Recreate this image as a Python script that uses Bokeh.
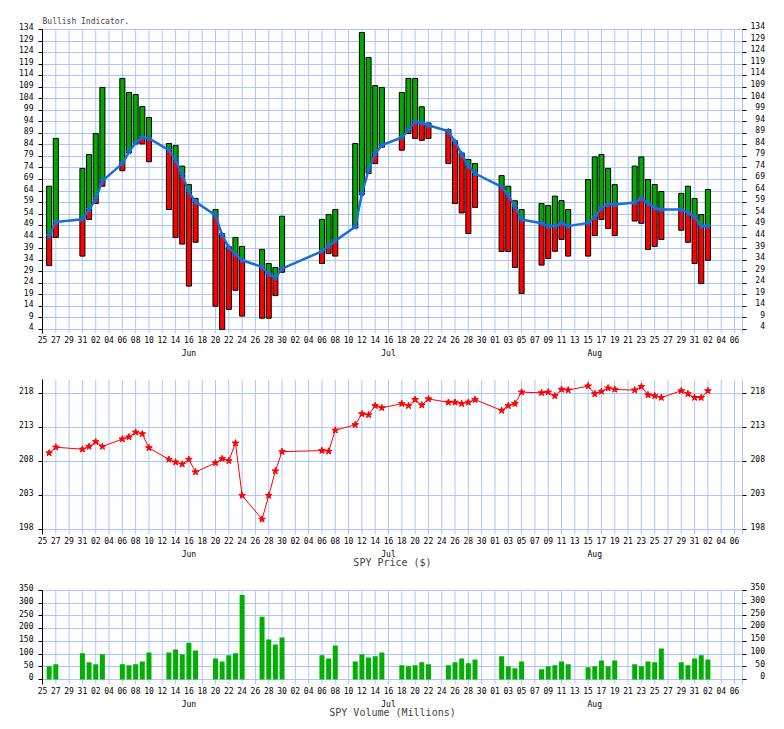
import pandas as pd
from bokeh.plotting import figure
from bokeh.models import Range1d, FixedTicker, LinearAxis, Grid, Title
from bokeh.layouts import column
from bokeh.embed import file_html
from bokeh.resources import INLINE

# ---------------- data ----------------
dates = ["2016-05-26", "2016-05-27", "2016-05-31", "2016-06-01", "2016-06-02", "2016-06-03",
         "2016-06-06", "2016-06-07", "2016-06-08", "2016-06-09", "2016-06-10",
         "2016-06-13", "2016-06-14", "2016-06-15", "2016-06-16", "2016-06-17",
         "2016-06-20", "2016-06-21", "2016-06-22", "2016-06-23", "2016-06-24",
         "2016-06-27", "2016-06-28", "2016-06-29", "2016-06-30",
         "2016-07-06", "2016-07-07", "2016-07-08",
         "2016-07-11", "2016-07-12", "2016-07-13", "2016-07-14", "2016-07-15",
         "2016-07-18", "2016-07-19", "2016-07-20", "2016-07-21", "2016-07-22",
         "2016-07-25", "2016-07-26", "2016-07-27", "2016-07-28", "2016-07-29",
         "2016-08-02", "2016-08-03", "2016-08-04", "2016-08-05",
         "2016-08-08", "2016-08-09", "2016-08-10", "2016-08-11", "2016-08-12",
         "2016-08-15", "2016-08-16", "2016-08-17", "2016-08-18", "2016-08-19",
         "2016-08-22", "2016-08-23", "2016-08-24", "2016-08-25", "2016-08-26",
         "2016-08-29", "2016-08-30", "2016-08-31", "2016-09-01", "2016-09-02"]

bull_high = [66.1, 86.8, 73.8, 79.8, 88.9, 108.9,
             112.8, 106.7, 105.8, 100.6, 95.9,
             84.6, 83.7, 74.8, 66.8, 60.8,
             56.0, 45.6, 40.0, 43.9, 40.0,
             38.7, 32.6, 30.9, 53.1,
             51.7, 53.8, 56.0,
             84.6, 132.7, 121.9, 109.7, 108.9,
             106.7, 112.8, 112.8, 100.5, 93.5,
             90.7, 85.8, 80.5, 77.7, 75.9,
             70.7, 66.1, 59.8, 56.0,
             58.6, 57.7, 61.8, 59.9, 56.0,
             69.0, 78.8, 79.8, 73.8, 66.8,
             74.8, 78.8, 69.0, 66.8, 63.8,
             63.0, 66.1, 60.8, 53.8, 64.7]

bull_low = [31.7, 43.9, 35.8, 51.7, 58.6, 66.1,
            72.8, 80.6, 84.6, 84.4, 76.7,
            56.0, 43.9, 41.0, 22.8, 41.8,
            14.1, 4.0, 12.7, 21.0, 9.8,
            8.9, 8.9, 18.7, 28.8,
            32.6, 36.9, 35.8,
            48.0, 62.5, 71.6, 75.9, 83.0,
            81.7, 88.9, 86.8, 86.0, 86.8,
            75.9, 58.6, 54.5, 45.6, 56.9,
            37.8, 37.8, 30.9, 19.6,
            31.9, 34.8, 37.9, 43.0, 35.8,
            35.8, 44.7, 51.7, 47.8, 44.7,
            51.0, 50.0, 38.7, 40.0, 43.0,
            47.0, 41.8, 32.6, 23.9, 34.0]

bull_line = [44.6, 50.6, 51.8, 56.0, 60.5, 68.4,
             75.9, 81.0, 84.9, 87.2, 86.8,
             81.7, 77.4, 70.9, 63.6, 59.3,
             53.5, 44.9, 39.5, 36.6, 34.0,
             31.1, 28.0, 26.5, 30.4,
             37.9, 40.1, 42.4,
             48.5, 62.9, 73.0, 80.3, 83.9,
             87.2, 90.4, 94.0, 93.6, 92.5,
             89.9, 85.3, 80.0, 74.9, 71.6,
             65.8, 62.2, 57.2, 51.7,
             50.0, 48.8, 48.8, 50.0, 48.8,
             50.2, 52.8, 56.7, 58.2, 58.2,
             59.0, 60.8, 58.6, 56.7, 56.0,
             56.0, 54.6, 52.8, 48.8, 48.8]

spy_price = [209.25, 210.1, 209.8, 210.2, 210.9, 210.2,
             211.3, 211.6, 212.3, 212.05, 210.0,
             208.3, 207.9, 207.6, 208.3, 206.45,
             207.8, 208.4, 208.1, 210.7, 203.0,
             199.5, 203.0, 206.6, 209.45,
             209.6, 209.5, 212.6,
             213.4, 215.0, 214.85, 216.2, 215.9,
             216.5, 216.2, 217.1, 216.3, 217.2,
             216.7, 216.7, 216.5, 216.7, 217.1,
             215.5, 216.2, 216.5, 218.2,
             218.1, 218.2, 217.65, 218.6, 218.5,
             219.1, 217.95, 218.3, 218.8, 218.6,
             218.5, 219.0, 217.8, 217.65, 217.4,
             218.4, 217.95, 217.4, 217.4, 218.4]

spy_volume = [52, 60, 103, 68, 60, 99,
              60, 56, 60, 71, 106,
              106, 118, 99, 145, 114,
              83, 71, 95, 103, 332,
              247, 157, 138, 165,
              95, 83, 134,
              71, 99, 87, 91, 106,
              56, 52, 56, 68, 60,
              56, 68, 83, 64, 79,
              91, 52, 44, 71,
              40, 52, 56, 71, 60,
              48, 52, 75, 52, 75,
              60, 52, 71, 68, 122,
              68, 56, 83, 95, 79]

bull_ticks = list(range(4, 135, 5))
price_ticks = [198, 203, 208, 213, 218]
volume_ticks = [0, 50, 100, 150, 200, 250, 300, 350]
month_names = ["Jun", "Jul", "Aug"]
month_label_dates = ["2016-06-16", "2016-07-16", "2016-08-16"]
axis_start = "2016-05-25"
last_tick_date = "2016-09-06"

# ---------------- helpers ----------------
FONT = "DejaVu Sans Mono"
GRID = "#abc6ff"
GREEN = "#00a800"
RED = "#ff0000"
BLUE = "#1a6ed8"

base = pd.Timestamp(axis_start)
xd = [(pd.Timestamp(d) - base).days for d in dates]
tick_dates = pd.date_range(axis_start, last_tick_date, freq="2D")
day_ticks = [int((d - base).days) for d in tick_dates]
day_labels = {t: d.strftime("%d") for t, d in zip(day_ticks, tick_dates)}
month_ticks = [int((pd.Timestamp(d) - base).days) for d in month_label_dates]
month_labels = {t: m for t, m in zip(month_ticks, month_names)}
XMAX = day_ticks[-1] + 1.2
LABEL_LIFT_PX = 2.7   # value labels sit a little above their grid lines


def pad(v, n=3):
    s = str(v)
    return "\u00a0" * (n - len(s)) + s


def make_fig(y0, y1, yticks, fh, top, bottom, xlabel=None, label_standoff=-4, ext=0):
    # ext: a few extra pixels of frame above y1 so the top value label has room
    ppu = fh / (y1 - y0)
    y1e = y1 + ext / ppu
    p = figure(frame_width=700, frame_height=fh + ext,
               x_range=Range1d(0, XMAX), y_range=Range1d(y0, y1e),
               x_axis_type=None, y_axis_type=None,
               output_backend="svg", toolbar_location=None, tools="",
               min_border_left=42, min_border_right=34,
               min_border_top=top - ext, min_border_bottom=bottom,
               outline_line_color=None, background_fill_color="white",
               border_fill_color="white")
    shift = LABEL_LIFT_PX / ppu
    p.extra_y_ranges = {"lab": Range1d(y0 - shift, y1e - shift)}

    yt = FixedTicker(ticks=yticks, minor_ticks=[])
    xt = FixedTicker(ticks=day_ticks, minor_ticks=[])
    # vertical grid lines span only the plotted value range
    vg = p.segment(x0=day_ticks, x1=day_ticks, y0=[y0] * len(day_ticks), y1=[y1] * len(day_ticks),
                   line_color=GRID, line_width=1)
    vg.level = "underlay"
    p.add_layout(Grid(dimension=1, ticker=yt, grid_line_color=GRID, grid_line_width=1))

    common = dict(major_label_text_font=FONT, major_label_text_font_size="8px",
                  major_label_text_color="black", minor_tick_line_color=None)
    blank = {t: "" for t in yticks}
    # tick-only axes next to the frame
    left_t = LinearAxis(ticker=yt, bounds=(y0, y1), axis_line_color="black",
                        major_tick_out=4, major_tick_in=0,
                        major_tick_line_color="black", major_label_standoff=0,
                        major_label_overrides=blank, **common)
    right_t = LinearAxis(ticker=yt, bounds=(y0, y1), axis_line_color=GRID,
                         major_tick_out=4, major_tick_in=0,
                         major_tick_line_color="black", major_label_standoff=0,
                         major_label_overrides=blank, **common)
    # label-only axes, lifted slightly
    left_l = LinearAxis(ticker=yt, y_range_name="lab", axis_line_color=None,
                        major_tick_line_color=None, major_tick_out=0, major_tick_in=0,
                        major_label_standoff=5, **common)
    right_l = LinearAxis(ticker=yt, y_range_name="lab", axis_line_color=None,
                         major_tick_line_color=None, major_tick_out=0, major_tick_in=0,
                         major_label_standoff=4,
                         major_label_overrides={t: pad(t) for t in yticks}, **common)
    days = LinearAxis(ticker=xt, axis_line_color=None, major_tick_line_color=None,
                      major_tick_out=0, major_label_standoff=2,
                      major_label_overrides=day_labels, **common)
    mon = LinearAxis(ticker=FixedTicker(ticks=month_ticks, minor_ticks=[]),
                     axis_line_color=None, major_tick_line_color=None, major_tick_out=0,
                     major_label_standoff=3, major_label_overrides=month_labels, **common)
    if xlabel:
        mon.axis_label = xlabel
        mon.axis_label_text_font = FONT
        mon.axis_label_text_font_size = "10px"
        mon.axis_label_text_font_style = "normal"
        mon.axis_label_standoff = label_standoff
    p.add_layout(left_t, "left")
    p.add_layout(left_l, "left")
    p.add_layout(right_t, "right")
    p.add_layout(right_l, "right")
    p.add_layout(days, "below")
    p.add_layout(mon, "below")
    return p


# ---------------- bullish indicator ----------------
p1 = make_fig(2.27, 134, bull_ticks, 304, 29, 30, ext=4)
p1.title = Title(text="Bullish Indicator.", text_font=FONT, text_font_size="8px",
                 text_font_style="normal", align="left", standoff=-1)

gx, gb, gt, rx, rb, rt = [], [], [], [], [], []
for x, lo, hi, m in zip(xd, bull_low, bull_high, bull_line):
    if hi > m:
        gx.append(x); gb.append(max(lo, m)); gt.append(hi)
    if lo < m:
        rx.append(x); rb.append(lo); rt.append(min(hi, m))
p1.vbar(x=gx, bottom=gb, top=gt, width=0.76, fill_color=GREEN, line_color="black", line_width=1)
p1.vbar(x=rx, bottom=rb, top=rt, width=0.76, fill_color=RED, line_color="black", line_width=1)
p1.line(xd, bull_line, line_color=BLUE, line_width=2.5)
p1.scatter(xd, bull_line, marker="star", size=6, fill_color=BLUE, line_color=BLUE)

# ---------------- price ----------------
p2 = make_fig(197.26, 220.06, price_ticks, 155, 16, 38, xlabel="SPY Price ($)", label_standoff=-5)
p2.line(xd, spy_price, line_color=RED, line_width=1)
p2.scatter(xd, spy_price, marker="star", size=7, fill_color=RED, line_color=RED)

# ---------------- volume ----------------
p3 = make_fig(-19.6, 350, volume_ticks, 94, 18, 40, xlabel="SPY Volume (Millions)",
              label_standoff=-5, ext=4)
p3.vbar(x=xd, top=spy_volume, bottom=0, width=0.75, fill_color="#00b000", line_color=None)

layout = column(p1, p2, p3, spacing=0)
open("out.html", "w").write(file_html(layout, INLINE))
